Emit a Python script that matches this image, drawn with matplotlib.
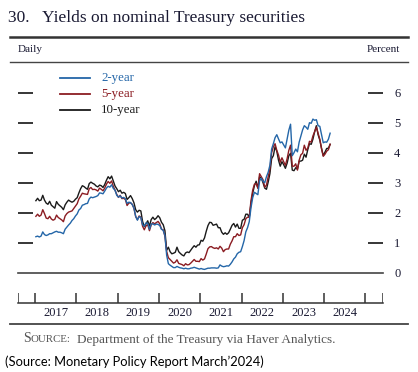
import numpy as np
import matplotlib
matplotlib.use("Agg")
import matplotlib.pyplot as plt
from matplotlib.lines import Line2D
import matplotlib.transforms as mtransforms

# semi-monthly readings (early / late each month), Jan 2017 - Feb 2024
two_year = [
    1.20, 1.22, 1.19, 1.22, 1.36, 1.27, 1.24, 1.26, 1.30, 1.30, 1.33, 1.36,
    1.38, 1.35, 1.35, 1.33, 1.30, 1.45, 1.52, 1.59, 1.65, 1.74, 1.80, 1.89,
    1.96, 2.09, 2.14, 2.25, 2.27, 2.30, 2.31, 2.46, 2.52, 2.50, 2.52, 2.54,
    2.57, 2.66, 2.65, 2.63, 2.72, 2.82, 2.88, 2.85, 2.93, 2.81, 2.75, 2.58,
    2.52, 2.56, 2.49, 2.51, 2.47, 2.31, 2.35, 2.34, 2.27, 2.16, 1.88, 1.75,
    1.87, 1.84, 1.60, 1.55, 1.66, 1.65, 1.45, 1.62, 1.63, 1.59, 1.62, 1.61,
    1.57, 1.45, 1.41, 1.24, 0.58, 0.30, 0.25, 0.21, 0.17, 0.17, 0.21, 0.18,
    0.16, 0.15, 0.13, 0.15, 0.13, 0.13, 0.15, 0.16, 0.18, 0.16, 0.14, 0.12,
    0.14, 0.12, 0.11, 0.13, 0.15, 0.15, 0.16, 0.16, 0.16, 0.15, 0.16, 0.26,
    0.22, 0.20, 0.21, 0.23, 0.22, 0.28, 0.36, 0.46, 0.52, 0.63, 0.68, 0.70,
    0.87, 1.07, 1.36, 1.50, 1.70, 2.16, 2.50, 2.68, 2.64, 2.60, 3.06, 3.15,
    3.05, 3.00, 3.20, 3.35, 3.58, 4.12, 4.30, 4.50, 4.60, 4.46, 4.33, 4.36,
    4.26, 4.16, 4.46, 4.75, 4.95, 3.90, 4.00, 4.12, 4.03, 4.35, 4.55, 4.76,
    4.90, 4.85, 4.78, 5.00, 4.98, 5.12, 5.08, 5.10, 4.90, 4.88, 4.60, 4.33,
    4.36, 4.35, 4.45, 4.65,
]
five_year = [
    1.88, 1.95, 1.88, 1.92, 2.10, 1.97, 1.82, 1.80, 1.88, 1.79, 1.75, 1.78,
    1.92, 1.84, 1.80, 1.76, 1.70, 1.89, 1.97, 2.02, 2.04, 2.06, 2.14, 2.22,
    2.30, 2.46, 2.55, 2.65, 2.63, 2.62, 2.61, 2.80, 2.84, 2.77, 2.78, 2.76,
    2.72, 2.82, 2.78, 2.73, 2.82, 2.95, 3.04, 2.98, 3.06, 2.88, 2.75, 2.61,
    2.51, 2.58, 2.47, 2.48, 2.44, 2.24, 2.32, 2.33, 2.28, 2.14, 1.87, 1.77,
    1.89, 1.85, 1.55, 1.43, 1.56, 1.60, 1.40, 1.59, 1.67, 1.63, 1.67, 1.71,
    1.63, 1.45, 1.43, 1.21, 0.71, 0.50, 0.44, 0.38, 0.32, 0.35, 0.43, 0.31,
    0.29, 0.27, 0.23, 0.30, 0.26, 0.27, 0.32, 0.38, 0.44, 0.38, 0.38, 0.37,
    0.47, 0.42, 0.46, 0.62, 0.80, 0.86, 0.87, 0.83, 0.81, 0.83, 0.79, 0.88,
    0.82, 0.70, 0.77, 0.79, 0.79, 0.95, 1.06, 1.20, 1.20, 1.30, 1.24, 1.26,
    1.50, 1.60, 1.80, 1.85, 1.85, 2.40, 2.75, 2.95, 2.97, 2.82, 3.30, 3.20,
    3.10, 2.85, 2.92, 3.20, 3.45, 4.00, 4.20, 4.30, 4.08, 3.92, 3.68, 3.83,
    3.70, 3.58, 3.80, 4.08, 4.25, 3.55, 3.55, 3.63, 3.42, 3.75, 3.93, 3.98,
    4.25, 4.08, 4.15, 4.38, 4.35, 4.56, 4.70, 4.85, 4.65, 4.45, 4.13, 3.88,
    3.95, 4.05, 4.10, 4.28,
]
ten_year = [
    2.40, 2.48, 2.40, 2.42, 2.58, 2.42, 2.32, 2.28, 2.38, 2.25, 2.20, 2.15,
    2.37, 2.28, 2.23, 2.18, 2.10, 2.26, 2.35, 2.42, 2.38, 2.35, 2.38, 2.45,
    2.50, 2.66, 2.80, 2.90, 2.87, 2.82, 2.78, 2.97, 3.02, 2.98, 2.95, 2.89,
    2.86, 2.92, 2.90, 2.84, 2.94, 3.08, 3.20, 3.13, 3.22, 3.06, 2.89, 2.80,
    2.70, 2.75, 2.65, 2.68, 2.64, 2.44, 2.50, 2.57, 2.47, 2.33, 2.10, 2.02,
    2.08, 2.06, 1.71, 1.54, 1.63, 1.73, 1.55, 1.77, 1.85, 1.77, 1.82, 1.90,
    1.83, 1.68, 1.60, 1.40, 0.75, 0.85, 0.70, 0.63, 0.65, 0.68, 0.85, 0.70,
    0.64, 0.59, 0.56, 0.66, 0.69, 0.67, 0.75, 0.83, 0.90, 0.85, 0.92, 0.93,
    1.08, 1.05, 1.16, 1.38, 1.57, 1.68, 1.67, 1.58, 1.60, 1.62, 1.50, 1.50,
    1.35, 1.28, 1.33, 1.28, 1.33, 1.45, 1.58, 1.64, 1.52, 1.62, 1.48, 1.48,
    1.75, 1.78, 1.95, 1.95, 1.85, 2.30, 2.65, 2.90, 3.05, 2.82, 3.20, 3.15,
    3.00, 2.82, 2.78, 3.02, 3.30, 3.80, 3.90, 4.20, 4.05, 3.75, 3.55, 3.70,
    3.60, 3.48, 3.65, 3.90, 3.98, 3.42, 3.40, 3.50, 3.45, 3.72, 3.72, 3.75,
    3.95, 3.85, 4.10, 4.30, 4.28, 4.45, 4.70, 4.90, 4.60, 4.42, 4.15, 3.90,
    4.02, 4.14, 4.15, 4.28,
]
series_labels = ["2-year", "5-year", "10-year"]
year_labels = ["2017", "2018", "2019", "2020", "2021", "2022", "2023", "2024"]

# decimal-year dates for the semi-monthly points
n = len(two_year)
dates = 2017 + (np.arange(n) // 2 + np.where(np.arange(n) % 2 == 0, 0.25, 0.75)) / 12.0

W, H = 418, 372
serif = "Liberation Serif"
txt_col = "#1a1a33"
colors = {"2-year": "#2466a8", "5-year": "#8b1c22", "10-year": "#1a1a1a"}

def fx(x):
    return x / W

def fy(y):
    return 1 - y / H

fig = plt.figure(figsize=(W / 100, H / 100), dpi=100)

x0, x1 = 2016.588, 2025.426

# main plot
y_zero, y_top = 272.7, 65
ax = fig.add_axes([fx(18), fy(y_zero), (383 - 18) / W, (y_zero - y_top) / H])
ax.plot(dates, ten_year, color=colors["10-year"], lw=1.0)
ax.plot(dates, five_year, color=colors["5-year"], lw=1.0)
ax.plot(dates, two_year, color=colors["2-year"], lw=1.0)
ax.set_xlim(x0, x1)
ax.set_ylim(0, (y_zero - y_top) / 30.0)
for s in ["top", "left", "right"]:
    ax.spines[s].set_visible(False)
ax.spines["bottom"].set_color("#444444")
ax.spines["bottom"].set_linewidth(1.2)
ax.set_xticks([])
ax.set_yticks(range(7))
ax.tick_params(axis="y", direction="in", length=11, width=1.1, left=True, right=True,
               labelleft=False, labelright=True, pad=8, labelsize=9, labelcolor=txt_col)
for lab in ax.get_yticklabels():
    lab.set_fontfamily(serif)
for i, t in enumerate(ax.yaxis.get_major_ticks()):
    t.tick1line.set_color("#222222")
    t.tick2line.set_color("#222222" if i == 2 else "#a0a0a0")
    if i == 0:
        t.tick1line.set_visible(False)
        t.tick2line.set_visible(False)

# legend drawn by hand
for lab, yy in zip(series_labels, [78, 94, 110]):
    fig.add_artist(Line2D([fx(60), fx(90)], [fy(yy), fy(yy)], color=colors[lab], lw=1.3))
    fig.text(fx(101), fy(yy), lab, family=serif, size=9.3, color=colors[lab], va="center")

# year strip
ax2 = fig.add_axes([fx(18), fy(303.3), (383 - 18) / W, 10.6 / H])
ax2.set_xlim(x0, x1)
ax2.set_ylim(0, 1)
ax2.vlines([x0 + 0.004] + list(range(2017, 2026)) + [x1 - 0.004], 0, 1, color="#333333", lw=1.1)
for s in ["top", "left", "right"]:
    ax2.spines[s].set_visible(False)
ax2.spines["bottom"].set_color("#333333")
ax2.spines["bottom"].set_linewidth(1.1)
ax2.set_xticks([])
ax2.set_yticks([])
tr = mtransforms.blended_transform_factory(ax2.transData, fig.transFigure)
for i, yl in enumerate(year_labels):
    ax2.text(2017.5 + i, fy(313), yl, transform=tr, family=serif, size=9,
             color=txt_col, ha="center", va="center")

# rules
for yy, lw, c in [(37, 1.8, "#333333"), (62, 1.0, "#444444"), (324, 1.3, "#444444")]:
    fig.add_artist(Line2D([fx(10), fx(408)], [fy(yy), fy(yy)], color=c, lw=lw))

# titles
fig.text(fx(8), fy(18), "30.   Yields on nominal Treasury securities", family=serif,
         size=12.5, color=txt_col, va="center")
fig.text(fx(18), fy(50), "Daily", family=serif, size=8, color=txt_col, va="center")
fig.text(fx(400), fy(50), "Percent", family=serif, size=8, color=txt_col, va="center", ha="right")

# source line with small caps
src_col = "#555555"
fig.canvas.draw()
r = fig.canvas.get_renderer()
t1 = fig.text(fx(23), fy(342.5), "S", family=serif, size=10, color=src_col, va="baseline")
e1 = t1.get_window_extent(r)
t2 = fig.text(e1.x1 / W, fy(342.5), "OURCE:", family=serif, size=7.8, color=src_col, va="baseline")
e2 = t2.get_window_extent(r)
fig.text(e2.x1 / W + fx(6), fy(342.5), "Department of the Treasury via Haver Analytics.",
         family=serif, size=9.5, color=src_col, va="baseline")

fig.text(fx(5), fy(362), "(Source: Monetary Policy Report March\u20192024)", family="Lato",
         size=9.3, color="black", va="center")

fig.savefig("out.png", dpi=100)
